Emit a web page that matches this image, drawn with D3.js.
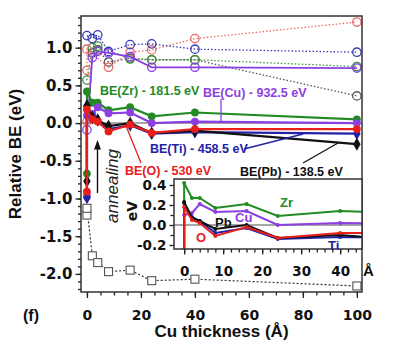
<!DOCTYPE html>
<html>
<head>
<meta charset="utf-8">
<script src="https://cdn.jsdelivr.net/npm/d3@7"></script>
<style>
  body { margin: 0; background: #fff; }
</style>
</head>
<body>
<div id="chart"></div>
<script>
// Cu thickness (A); the first 0 is the layer before annealing
const thick = [0, 0, 2, 4, 8, 16, 24, 40, 100];

// filled markers, solid lines
const beZr = [-0.67, 0.42, 0.27, 0.27, 0.17, 0.21, 0.09, 0.14, 0.05];
const beCu = [-0.97, 0.10, 0.12, 0.21, 0.13, 0.14, 0.0, 0.02, 0.0];
const beTi = [-0.99, 0.22, 0.08, 0.04, -0.08, -0.03, -0.14, -0.12, -0.14];
const bePb = [-0.77, 0.23, 0.07, 0.04, -0.04, 0.0, -0.13, -0.1, -0.28];
const beO = [-0.91, 0.18, 0.05, 0.02, -0.11, -0.02, -0.13, -0.08, -0.08];

// open circles, dotted lines (null = no point)
const ringTi = [null, 1.16, 1.12, 1.17, 0.95, 1.04, 1.05, 0.98, 0.94];
const ringO = [0.7, 0.98, null, null, 0.74, 0.94, 0.97, 1.12, 1.34];
const ringZr = [0.57, null, 1.0, 1.02, null, 0.85, 0.84, 0.84, 0.75];
const ringPb = [null, null, 0.93, 0.97, 0.81, 0.86, 0.84, 0.84, 0.36];
const ringCu = [-0.09, null, 0.87, 0.95, 0.93, 0.88, 0.74, 0.74, 0.73];
// lone open circle on the zero line
const ringLoneX = [0];
const ringLoneY = [0.02];

// open squares
const beSquare = [-1.22, -1.13, -1.76, -1.85, -1.97, -1.95, -2.09, -2.07, -2.16];

const xTicks = [0, 20, 40, 60, 80, 100];
const yTicks = [-2, -1.5, -1, -0.5, 0, 0.5, 1];
const insetXTicks = [0, 10, 20, 30, 40];
const insetYTicks = [-0.2, 0, 0.2, 0.4];

const numFont = "DejaVu Sans, sans-serif";
const txtFont = "Liberation Sans, Arial, sans-serif";

const svg = d3
  .select("#chart")
  .append("svg")
  .attr("width", 400)
  .attr("height", 348);

const x = d3.scaleLinear().domain([-2.2, 101.9]).range([81, 362]);
const y = d3.scaleLinear().domain([1.42, -2.24]).range([16, 292]);

const pairs = (vals) =>
  thick.map((t, i) => [t, vals[i]]).filter((d) => d[1] !== null);

const styleAxis = (g) => {
  g.select(".domain").remove();
  g.selectAll("line").attr("stroke", "#222").attr("stroke-width", 1.3);
  g.selectAll("text")
    .attr("fill", "#111")
    .style("font-family", numFont)
    .style("font-weight", "bold");
};

svg
  .append("defs")
  .append("clipPath")
  .attr("id", "mainClip")
  .append("rect")
  .attr("x", 81)
  .attr("y", 16)
  .attr("width", 281)
  .attr("height", 276);

// axes
svg
  .append("g")
  .attr("transform", "translate(0,292)")
  .call(d3.axisBottom(x).tickValues(d3.range(0, 101, 5)).tickSize(3.5).tickFormat(""))
  .call(styleAxis);
svg
  .append("g")
  .attr("transform", "translate(0,292)")
  .call(d3.axisBottom(x).tickValues(xTicks).tickSize(6).tickPadding(12).tickFormat(d3.format("d")))
  .call(styleAxis)
  .selectAll("text")
  .style("font-size", "14px");
svg
  .append("g")
  .attr("transform", "translate(81,0)")
  .call(d3.axisLeft(y).tickValues(d3.range(-22, 15).map((v) => v / 10)).tickSize(3).tickFormat(""))
  .call(styleAxis);
svg
  .append("g")
  .attr("transform", "translate(81,0)")
  .call(d3.axisLeft(y).tickValues(yTicks).tickSize(5.5).tickPadding(3).tickFormat((d) => d.toFixed(1)))
  .call(styleAxis)
  .selectAll("text")
  .style("font-size", "15px");

const plot = svg.append("g").attr("clip-path", "url(#mainClip)");

plot
  .append("line")
  .attr("x1", 81)
  .attr("x2", 362)
  .attr("y1", y(0))
  .attr("y2", y(0))
  .attr("stroke", "#888")
  .attr("stroke-width", 1.5);

const line = d3
  .line()
  .x((d) => x(d[0]))
  .y((d) => y(d[1]));

// open circle series
const rings = [
  { vals: ringPb, color: "#555", dash: "1.5,2" },
  { vals: ringZr, color: "#3c963c", dash: "1.5,2" },
  { vals: ringO, color: "#ea6a6a", dash: "1.5,2" },
  { vals: ringTi, color: "#3a3ab4", dash: "1.5,2" },
  { vals: ringCu, color: "#8b3fe0", dash: null },
];
rings.forEach((s) => {
  const pts = pairs(s.vals);
  plot
    .append("path")
    .datum(pts)
    .attr("fill", "none")
    .attr("stroke", s.color)
    .attr("stroke-width", s.dash ? 1.3 : 1.8)
    .attr("stroke-dasharray", s.dash)
    .attr("d", line);
  plot
    .selectAll(null)
    .data(pts)
    .join("circle")
    .attr("cx", (d) => x(d[0]))
    .attr("cy", (d) => y(d[1]))
    .attr("r", 4.2)
    .attr("fill", "none")
    .attr("stroke", s.color)
    .attr("stroke-width", 1.3);
});
plot
  .selectAll(null)
  .data(ringLoneX.map((v, i) => [v, ringLoneY[i]]))
  .join("circle")
  .attr("cx", (d) => x(d[0]))
  .attr("cy", (d) => y(d[1]))
  .attr("r", 4.2)
  .attr("fill", "none")
  .attr("stroke", "#ea6a6a")
  .attr("stroke-width", 1.3);

// open squares
const sqPts = pairs(beSquare);
plot
  .append("path")
  .datum(sqPts)
  .attr("fill", "none")
  .attr("stroke", "#333")
  .attr("stroke-width", 1.2)
  .attr("stroke-dasharray", "2,2")
  .attr("d", line);
plot
  .selectAll(null)
  .data(sqPts)
  .join("rect")
  .attr("x", (d) => x(d[0]) - 4)
  .attr("y", (d) => y(d[1]) - 4)
  .attr("width", 8)
  .attr("height", 8)
  .attr("fill", "#fff")
  .attr("stroke", "#555")
  .attr("stroke-width", 1.1);

// filled series
const series = [
  { name: "Zr", vals: beZr, color: "#238b23", sym: d3.symbolCircle },
  { name: "Cu", vals: beCu, color: "#8b3fe0", sym: d3.symbolCircle },
  { name: "Ti", vals: beTi, color: "#2222a8", sym: d3.symbolDiamond },
  { name: "Pb", vals: bePb, color: "#111", sym: d3.symbolDiamond },
  { name: "O", vals: beO, color: "#e8201c", sym: d3.symbolCircle },
];
series.forEach((s) => {
  const pts = pairs(s.vals);
  plot
    .append("path")
    .datum(pts)
    .attr("fill", "none")
    .attr("stroke", s.color)
    .attr("stroke-width", 2.2)
    .attr("d", line);
  plot
    .selectAll(null)
    .data(pts)
    .join("path")
    .attr("transform", (d) => `translate(${x(d[0])},${y(d[1])})`)
    .attr("d", d3.symbol(s.sym, 48))
    .attr("fill", s.color);
});

// frame
svg
  .append("rect")
  .attr("x", 81)
  .attr("y", 16)
  .attr("width", 281)
  .attr("height", 276)
  .attr("fill", "none")
  .attr("stroke", "#333")
  .attr("stroke-width", 1.5);

// annotations
const notes = [
  { t: "BE(Zr) - 181.5 eV", c: "#238b23", x: 100, y: 95 },
  { t: "BE(Cu) - 932.5 eV", c: "#8b3fe0", x: 203, y: 97 },
  { t: "BE(Ti) - 458.5 eV", c: "#2222a8", x: 150, y: 153 },
  { t: "BE(O) - 530 eV", c: "#e8201c", x: 125, y: 175 },
  { t: "BE(Pb) - 138.5 eV", c: "#111", x: 240, y: 176 },
];
svg
  .selectAll(null)
  .data(notes)
  .join("text")
  .attr("x", (d) => d.x)
  .attr("y", (d) => d.y)
  .attr("fill", (d) => d.c)
  .style("font-family", txtFont)
  .style("font-weight", "bold")
  .style("font-size", "12.5px")
  .text((d) => d.t);

const leaders = [
  { c: "#8b3fe0", p: [[221, 99], [221, 122]] },
  { c: "#2222a8", p: [[244, 149], [303, 134]] },
  { c: "#e8201c", p: [[141, 163], [126, 126]] },
  { c: "#111", p: [[303, 163], [338, 143]] },
];
leaders.forEach((l) => {
  svg
    .append("path")
    .attr("d", d3.line()(l.p))
    .attr("stroke", l.c)
    .attr("stroke-width", 1.3);
});

// annealing arrow
svg
  .append("line")
  .attr("x1", 97.5)
  .attr("x2", 97.5)
  .attr("y1", 193)
  .attr("y2", 147)
  .attr("stroke", "#111")
  .attr("stroke-width", 1.4);
svg
  .append("path")
  .attr("d", "M97.5,140 L101,149.5 L94,149.5 Z")
  .attr("fill", "#111");
svg
  .append("text")
  .attr("transform", "translate(118,186) rotate(-90)")
  .attr("text-anchor", "middle")
  .style("font-family", txtFont)
  .style("font-style", "italic")
  .style("font-size", "17px")
  .attr("fill", "#222")
  .text("annealing");

// axis titles
svg
  .append("text")
  .attr("transform", "translate(21,154) rotate(-90)")
  .attr("text-anchor", "middle")
  .style("font-family", txtFont)
  .style("font-weight", "bold")
  .style("font-size", "17px")
  .attr("fill", "#111")
  .text("Relative BE (eV)");
svg
  .append("text")
  .attr("x", 221.5)
  .attr("y", 337)
  .attr("text-anchor", "middle")
  .style("font-family", txtFont)
  .style("font-weight", "bold")
  .style("font-size", "17px")
  .attr("fill", "#111")
  .text("Cu thickness (Å)");
svg
  .append("text")
  .attr("x", 23)
  .attr("y", 321)
  .style("font-family", txtFont)
  .style("font-weight", "bold")
  .style("font-size", "16px")
  .attr("fill", "#111")
  .text("(f)");

// ---- inset ----
const xi = d3.scaleLinear().domain([-2.6, 45.6]).range([174, 362]);
const yi = d3.scaleLinear().domain([0.46, -0.24]).range([179, 249]);

svg
  .select("defs")
  .append("clipPath")
  .attr("id", "insetClip")
  .append("rect")
  .attr("x", 174)
  .attr("y", 179)
  .attr("width", 188)
  .attr("height", 70);

svg
  .append("rect")
  .attr("x", 174)
  .attr("y", 179)
  .attr("width", 188)
  .attr("height", 70)
  .attr("fill", "#fff");

svg
  .append("g")
  .attr("transform", "translate(0,249)")
  .call(d3.axisBottom(xi).tickValues(d3.range(0, 45, 2)).tickSize(3.5).tickFormat(""))
  .call(styleAxis);
svg
  .append("g")
  .attr("transform", "translate(0,249)")
  .call(d3.axisBottom(xi).tickValues(insetXTicks).tickSize(5.5).tickPadding(12).tickFormat(d3.format("d")))
  .call(styleAxis)
  .selectAll("text")
  .style("font-size", "13.5px");
svg
  .append("g")
  .attr("transform", "translate(174,0)")
  .call(d3.axisLeft(yi).tickValues([-0.1, 0.1, 0.3]).tickSize(3.5).tickFormat(""))
  .call(styleAxis);
svg
  .append("g")
  .attr("transform", "translate(174,0)")
  .call(d3.axisLeft(yi).tickValues(insetYTicks).tickSize(4.5).tickPadding(3).tickFormat((d) => d.toFixed(1)))
  .call(styleAxis)
  .selectAll("text")
  .style("font-size", "13.5px");

const inset = svg.append("g").attr("clip-path", "url(#insetClip)");
inset
  .append("line")
  .attr("x1", 174)
  .attr("x2", 362)
  .attr("y1", yi(0))
  .attr("y2", yi(0))
  .attr("stroke", "#888")
  .attr("stroke-width", 1.5);

const lineI = d3
  .line()
  .x((d) => xi(d[0]))
  .y((d) => yi(d[1]));

series.forEach((s) => {
  const pts = pairs(s.vals);
  inset
    .append("path")
    .datum(pts)
    .attr("fill", "none")
    .attr("stroke", s.color)
    .attr("stroke-width", 2)
    .attr("d", lineI);
  inset
    .selectAll(null)
    .data(pts)
    .join("circle")
    .attr("cx", (d) => xi(d[0]))
    .attr("cy", (d) => yi(d[1]))
    .attr("r", 2)
    .attr("fill", s.color);
});

svg
  .append("rect")
  .attr("x", 174)
  .attr("y", 179)
  .attr("width", 188)
  .attr("height", 70)
  .attr("fill", "none")
  .attr("stroke", "#333")
  .attr("stroke-width", 1.5);

const insetNotes = [
  { t: "Zr", c: "#238b23", x: 280, y: 207 },
  { t: "Cu", c: "#8b3fe0", x: 235, y: 222 },
  { t: "Pb", c: "#111", x: 215, y: 227 },
  { t: "O", c: "#e8201c", x: 196, y: 242 },
  { t: "Ti", c: "#2222a8", x: 328, y: 250 },
];
svg
  .selectAll(null)
  .data(insetNotes)
  .join("text")
  .attr("x", (d) => d.x)
  .attr("y", (d) => d.y)
  .attr("fill", (d) => d.c)
  .style("font-family", txtFont)
  .style("font-weight", "bold")
  .style("font-size", "13px")
  .text((d) => d.t);

svg
  .append("text")
  .attr("x", 363)
  .attr("y", 276)
  .style("font-family", txtFont)
  .style("font-weight", "bold")
  .style("font-size", "15px")
  .attr("fill", "#111")
  .text("Å");
svg
  .append("text")
  .attr("transform", "translate(137,211) rotate(-90)")
  .attr("text-anchor", "middle")
  .style("font-family", numFont)
  .style("font-weight", "bold")
  .style("font-size", "14px")
  .attr("fill", "#111")
  .text("eV");
</script>
</body>
</html>
